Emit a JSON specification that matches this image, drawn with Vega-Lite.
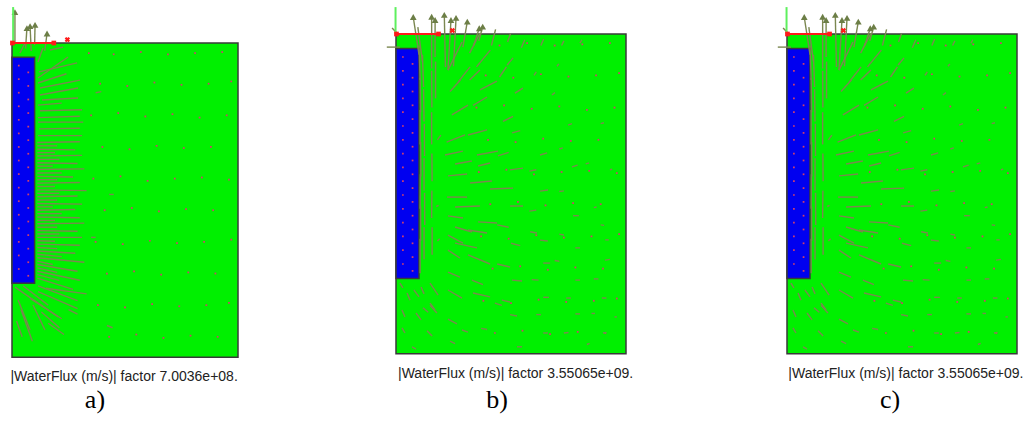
{
"$schema":"https://vega.github.io/schema/vega-lite/v6.json",
"padding":0,
"config":{"view":{"stroke":null}},
"spacing":110,
"bounds":"flush",
"resolve":{"scale":{"x":"independent","y":"independent"}},
"datasets":{
"regions":[{"x":0,"x2":10,"y":0,"y2":-13.9,"zone":"soil"},{"x":0,"x2":1.0,"y":-0.63,"y2":-10.63,"zone":"pile"}],
"dots":[
{"x":3.4,"y":-0.45},{"x":4.5,"y":-0.5},{"x":5.7,"y":-0.4},{"x":6.9,"y":-0.5},{"x":8.1,"y":-0.45},{"x":9.3,"y":-0.4},
{"x":3.9,"y":-1.8},{"x":5.1,"y":-1.9},{"x":6.3,"y":-1.75},{"x":7.5,"y":-1.85},{"x":8.7,"y":-1.8},{"x":9.7,"y":-1.7},
{"x":3.5,"y":-3.2},{"x":4.7,"y":-3.1},{"x":5.9,"y":-3.25},{"x":7.1,"y":-3.15},{"x":8.3,"y":-3.3},{"x":9.5,"y":-3.2},
{"x":4.0,"y":-4.6},{"x":5.2,"y":-4.7},{"x":6.4,"y":-4.55},{"x":7.6,"y":-4.65},{"x":8.8,"y":-4.6},
{"x":3.6,"y":-6.0},{"x":4.8,"y":-5.9},{"x":6.0,"y":-6.1},{"x":7.2,"y":-6.0},{"x":8.4,"y":-5.95},{"x":9.6,"y":-6.05},
{"x":4.1,"y":-7.4},{"x":5.3,"y":-7.3},{"x":6.5,"y":-7.45},{"x":7.7,"y":-7.35},{"x":8.9,"y":-7.4},
{"x":3.7,"y":-8.8},{"x":4.9,"y":-8.9},{"x":6.1,"y":-8.75},{"x":7.3,"y":-8.85},{"x":8.5,"y":-8.8},{"x":9.7,"y":-8.7},
{"x":4.2,"y":-10.2},{"x":5.4,"y":-10.1},{"x":6.6,"y":-10.25},{"x":7.8,"y":-10.15},{"x":9.0,"y":-10.2},
{"x":3.8,"y":-11.6},{"x":5.0,"y":-11.7},{"x":6.2,"y":-11.55},{"x":7.4,"y":-11.65},{"x":8.6,"y":-11.6},{"x":9.6,"y":-11.5},
{"x":4.3,"y":-13.0},{"x":5.5,"y":-12.9},{"x":6.7,"y":-13.05},{"x":7.9,"y":-12.95},{"x":9.1,"y":-13.0},
{"x":0.3,"y":-1.0},{"x":0.72,"y":-1.3},{"x":0.3,"y":-1.6},{"x":0.72,"y":-1.9},{"x":0.3,"y":-2.2},{"x":0.72,"y":-2.5},{"x":0.3,"y":-2.8},{"x":0.72,"y":-3.1},
{"x":0.3,"y":-3.4},{"x":0.72,"y":-3.7},{"x":0.3,"y":-4.0},{"x":0.72,"y":-4.3},{"x":0.3,"y":-4.6},{"x":0.72,"y":-4.9},{"x":0.3,"y":-5.2},{"x":0.72,"y":-5.5},
{"x":0.3,"y":-5.8},{"x":0.72,"y":-6.1},{"x":0.3,"y":-6.4},{"x":0.72,"y":-6.7},{"x":0.3,"y":-7.0},{"x":0.72,"y":-7.3},{"x":0.3,"y":-7.6},{"x":0.72,"y":-7.9},
{"x":0.3,"y":-8.2},{"x":0.72,"y":-8.5},{"x":0.3,"y":-8.8},{"x":0.72,"y":-9.1},{"x":0.3,"y":-9.4},{"x":0.72,"y":-9.7},{"x":0.3,"y":-10.0},{"x":0.72,"y":-10.3}
],
"redline":[{"x":0,"y":0,"x2":1.9,"y2":0}],
"redsq":[{"x":0.02,"y":0},{"x":1.85,"y":0}],
"redx":[{"x":2.45,"y":0.15}],
"guideA":[{"x":0.05,"y":0,"x2":0.05,"y2":1.59}],
"guideB":[{"x":-0.02,"y":0,"x2":-0.02,"y2":1.17}],
"capA":[{"x":4.96,"y":-14.96,"label":"|WaterFlux (m/s)| factor 7.0036e+08."}],
"tagA":[{"x":3.67,"y":-16.15,"label":"a)"}],
"capB":[{"x":5.2,"y":-14.96,"label":"|WaterFlux (m/s)| factor 3.55065e+09."}],
"tagB":[{"x":4.39,"y":-16.26,"label":"b)"}],
"capC":[{"x":5.17,"y":-14.96,"label":"|WaterFlux (m/s)| factor 3.55065e+09."}],
"tagC":[{"x":4.48,"y":-16.26,"label":"c)"}],
"headsA":[{"x":0.13,"y":1.37},{"x":0.66,"y":0.66},{"x":0.8,"y":0.75},{"x":1.02,"y":0.8},{"x":1.55,"y":0.42}],
"headsB":[{"x":0.75,"y":0.74},{"x":1.55,"y":0.75},{"x":1.7,"y":0.61},{"x":2.1,"y":0.83},{"x":2.39,"y":0.61},{"x":2.61,"y":0.7},{"x":3.1,"y":0.54},{"x":3.62,"y":0.25},{"x":3.77,"y":0.32}],
"arrowsA":[
{"x":0.13,"y":0,"x2":0.13,"y2":1.37},{"x":0.6,"y":-0.25,"x2":0.66,"y2":0.66},{"x":0.85,"y":-0.35,"x2":0.8,"y2":0.75},{"x":1.0,"y":-0.1,"x2":1.02,"y2":0.8},{"x":1.45,"y":-0.35,"x2":1.55,"y2":0.42},
{"x":0.35,"y":-0.44,"x2":0.58,"y2":0},{"x":1.15,"y":-0.84,"x2":1.37,"y2":-0.22},{"x":1.68,"y":-0.31,"x2":2.26,"y2":-0.18},
{"x":1.15,"y":-1.55,"x2":2.48,"y2":-0.62},{"x":1.19,"y":-1.28,"x2":2.88,"y2":-0.88},{"x":1.15,"y":-1.77,"x2":2.41,"y2":-1.36},{"x":1.24,"y":-1.99,"x2":3.01,"y2":-1.64},
{"x":1.24,"y":-2.3,"x2":2.92,"y2":-1.99},{"x":1.33,"y":-2.52,"x2":2.92,"y2":-2.43},{"x":1.15,"y":-2.75,"x2":2.2,"y2":-2.66},{"x":1.24,"y":-3.0,"x2":3.1,"y2":-2.95},
{"x":1.15,"y":-3.3,"x2":3.0,"y2":-3.24},{"x":1.15,"y":-3.5,"x2":3.15,"y2":-3.5},{"x":1.2,"y":-3.8,"x2":3.0,"y2":-3.77},{"x":1.15,"y":-4.1,"x2":3.1,"y2":-4.1},
{"x":1.12,"y":-4.4,"x2":3.0,"y2":-4.37},{"x":1.12,"y":-4.55,"x2":2.0,"y2":-4.55},
{"x":1.12,"y":-4.7,"x2":2.8,"y2":-4.73},{"x":1.12,"y":-4.85,"x2":1.9,"y2":-4.85},
{"x":1.12,"y":-5.0,"x2":3.1,"y2":-4.97},{"x":1.12,"y":-5.15,"x2":2.1,"y2":-5.15},
{"x":1.12,"y":-5.3,"x2":2.9,"y2":-5.33},{"x":1.12,"y":-5.45,"x2":1.8,"y2":-5.45},
{"x":1.12,"y":-5.6,"x2":3.2,"y2":-5.57},{"x":1.12,"y":-5.75,"x2":2.2,"y2":-5.75},
{"x":1.12,"y":-5.9,"x2":2.7,"y2":-5.93},{"x":1.12,"y":-6.05,"x2":2.0,"y2":-6.05},
{"x":1.12,"y":-6.2,"x2":3.0,"y2":-6.17},{"x":1.12,"y":-6.35,"x2":1.9,"y2":-6.35},
{"x":1.12,"y":-6.5,"x2":3.3,"y2":-6.53},{"x":1.12,"y":-6.65,"x2":2.1,"y2":-6.65},
{"x":1.12,"y":-6.8,"x2":2.9,"y2":-6.77},{"x":1.12,"y":-6.95,"x2":2.0,"y2":-6.95},
{"x":1.12,"y":-7.1,"x2":3.1,"y2":-7.13},{"x":1.12,"y":-7.25,"x2":1.8,"y2":-7.25},
{"x":1.12,"y":-7.4,"x2":2.8,"y2":-7.37},{"x":1.12,"y":-7.55,"x2":2.2,"y2":-7.55},
{"x":1.12,"y":-7.7,"x2":3.0,"y2":-7.73},{"x":1.12,"y":-7.85,"x2":1.9,"y2":-7.85},
{"x":1.12,"y":-8.0,"x2":3.2,"y2":-7.97},{"x":1.12,"y":-8.15,"x2":2.0,"y2":-8.15},
{"x":1.12,"y":-8.3,"x2":2.9,"y2":-8.33},{"x":1.12,"y":-8.45,"x2":2.1,"y2":-8.45},
{"x":1.12,"y":-8.6,"x2":3.1,"y2":-8.6},{"x":1.12,"y":-8.75,"x2":1.9,"y2":-8.77},
{"x":1.12,"y":-8.9,"x2":3.0,"y2":-8.95},{"x":1.12,"y":-9.05,"x2":2.0,"y2":-9.1},
{"x":1.12,"y":-9.2,"x2":2.8,"y2":-9.3},{"x":1.12,"y":-9.35,"x2":2.2,"y2":-9.45},
{"x":1.12,"y":-9.5,"x2":3.2,"y2":-9.7},{"x":1.12,"y":-9.65,"x2":1.8,"y2":-9.8},
{"x":1.12,"y":-9.8,"x2":2.9,"y2":-10.1},{"x":1.12,"y":-9.95,"x2":2.0,"y2":-10.15},
{"x":1.12,"y":-10.1,"x2":3.0,"y2":-10.5},{"x":1.12,"y":-10.25,"x2":2.1,"y2":-10.5},
{"x":1.12,"y":-10.4,"x2":2.7,"y2":-10.9},
{"x":1.15,"y":-10.75,"x2":2.9,"y2":-11.4},{"x":0.13,"y":-10.8,"x2":2.04,"y2":-12.12},{"x":1.15,"y":-11.0,"x2":2.9,"y2":-11.75},{"x":0.8,"y":-11.3,"x2":2.2,"y2":-12.2},
{"x":0.27,"y":-11.37,"x2":0.8,"y2":-12.7},{"x":0.93,"y":-11.59,"x2":1.46,"y2":-12.7},{"x":0.4,"y":-11.8,"x2":0.9,"y2":-13.2},{"x":1.3,"y":-11.9,"x2":2.1,"y2":-12.6},
{"x":0.2,"y":-12.3,"x2":0.45,"y2":-13.0},{"x":1.6,"y":-12.4,"x2":2.3,"y2":-12.9},{"x":2.5,"y":-11.8,"x2":2.9,"y2":-12.0},{"x":1.5,"y":-10.85,"x2":3.3,"y2":-11.1},
{"x":0.5,"y":-10.75,"x2":1.6,"y2":-11.6},
{"x":4.2,"y":-12.5,"x2":4.45,"y2":-12.6},{"x":3.7,"y":-2.2,"x2":3.95,"y2":-2.15},{"x":4.3,"y":-6.7,"x2":4.5,"y2":-6.7},{"x":3.5,"y":-8.6,"x2":3.7,"y2":-8.6}
],
"arrowsB":[
{"x":-0.4,"y":-0.57,"x2":0.17,"y2":-0.57},{"x":-0.17,"y":0.26,"x2":0.04,"y2":0.04},
{"x":1.05,"y":-10.4,"x2":1.05,"y2":-8.9},{"x":1.07,"y":-9.0,"x2":1.07,"y2":-7.5},{"x":1.05,"y":-7.6,"x2":1.06,"y2":-6.1},{"x":1.08,"y":-6.2,"x2":1.07,"y2":-4.7},
{"x":1.05,"y":-4.8,"x2":1.05,"y2":-3.3},{"x":1.07,"y":-3.4,"x2":1.05,"y2":-1.9},{"x":1.05,"y":-2.0,"x2":1.0,"y2":-0.5},{"x":1.0,"y":-0.9,"x2":0.75,"y2":0.74},
{"x":1.22,"y":-9.8,"x2":1.22,"y2":-8.4},{"x":1.25,"y":-8.3,"x2":1.24,"y2":-6.9},{"x":1.22,"y":-6.8,"x2":1.22,"y2":-5.4},{"x":1.24,"y":-5.3,"x2":1.23,"y2":-3.9},
{"x":1.22,"y":-3.8,"x2":1.2,"y2":-2.4},{"x":1.2,"y":-2.3,"x2":1.15,"y2":-0.9},{"x":1.15,"y":-1.2,"x2":0.95,"y2":0.3},
{"x":1.57,"y":-9.6,"x2":1.57,"y2":-8.4},{"x":1.55,"y":-8.0,"x2":1.56,"y2":-6.8},{"x":1.57,"y":-6.4,"x2":1.56,"y2":-5.2},{"x":1.55,"y":-4.8,"x2":1.55,"y2":-3.4},
{"x":1.56,"y":-3.2,"x2":1.55,"y2":-1.6},{"x":1.55,"y":-1.5,"x2":1.55,"y2":0.75},
{"x":1.72,"y":-2.8,"x2":1.72,"y2":-1.2},{"x":1.7,"y":-1.0,"x2":1.7,"y2":0.61},
{"x":2.15,"y":-1.43,"x2":2.1,"y2":0.83},{"x":2.26,"y":-1.57,"x2":2.39,"y2":0.61},{"x":2.5,"y":-1.4,"x2":2.61,"y2":0.7},{"x":2.91,"y":-0.57,"x2":3.1,"y2":0.54},
{"x":3.4,"y":-0.43,"x2":3.62,"y2":0.25},{"x":3.6,"y":-0.3,"x2":3.77,"y2":0.32},{"x":4.15,"y":-0.5,"x2":4.33,"y2":0.2},{"x":4.85,"y":-0.35,"x2":4.98,"y2":0.02},
{"x":5.45,"y":-0.6,"x2":5.6,"y2":-0.25},{"x":6.3,"y":-0.5,"x2":6.42,"y2":-0.22},{"x":7.2,"y":-0.5,"x2":7.3,"y2":-0.3},{"x":8.0,"y":-0.4,"x2":8.08,"y2":-0.25},
{"x":2.26,"y":-1.57,"x2":2.87,"y2":-0.35},{"x":2.7,"y":-2.09,"x2":3.22,"y2":-1.43},{"x":3.2,"y":-0.83,"x2":3.65,"y2":0.04},{"x":3.5,"y":-1.43,"x2":4.1,"y2":-0.7},
{"x":4.5,"y":-1.87,"x2":4.8,"y2":-1.43},{"x":4.83,"y":-1.35,"x2":5.09,"y2":-1.04},{"x":2.35,"y":-2.5,"x2":2.8,"y2":-2.0},{"x":3.2,"y":-2.0,"x2":3.65,"y2":-1.57},
{"x":3.65,"y":-2.43,"x2":4.39,"y2":-2.05},{"x":5.17,"y":-2.57,"x2":5.52,"y2":-2.35},{"x":6.78,"y":-2.65,"x2":6.91,"y2":-2.55},{"x":2.43,"y":-3.52,"x2":3.13,"y2":-3.09},
{"x":3.35,"y":-3.1,"x2":3.96,"y2":-2.74},{"x":4.65,"y":-3.8,"x2":5.09,"y2":-3.58},{"x":7.48,"y":-3.96,"x2":7.65,"y2":-3.9},{"x":8.9,"y":-3.9,"x2":9.04,"y2":-3.86},
{"x":6.0,"y":-1.8,"x2":6.1,"y2":-1.65},{"x":7.0,"y":-1.4,"x2":7.08,"y2":-1.3},
{"x":2.2,"y":-4.7,"x2":3.0,"y2":-4.39},{"x":3.13,"y":-4.39,"x2":3.96,"y2":-4.17},{"x":5.05,"y":-4.3,"x2":5.4,"y2":-4.2},{"x":2.13,"y":-5.26,"x2":2.91,"y2":-5.09},
{"x":3.52,"y":-5.26,"x2":4.43,"y2":-5.09},{"x":4.43,"y":-5.3,"x2":4.9,"y2":-5.15},{"x":6.26,"y":-5.26,"x2":6.57,"y2":-5.17},{"x":7.1,"y":-5.0,"x2":7.25,"y2":-4.95},
{"x":2.57,"y":-5.65,"x2":3.3,"y2":-5.52},{"x":3.57,"y":-5.74,"x2":4.09,"y2":-5.61},{"x":4.96,"y":-5.91,"x2":5.52,"y2":-5.83},{"x":5.8,"y":-5.96,"x2":6.1,"y2":-5.9},
{"x":7.65,"y":-5.78,"x2":7.9,"y2":-5.7},{"x":8.25,"y":-5.65,"x2":8.4,"y2":-5.6},{"x":9.3,"y":-5.9,"x2":9.4,"y2":-5.88},
{"x":2.26,"y":-6.17,"x2":3.09,"y2":-6.09},{"x":3.22,"y":-6.48,"x2":4.17,"y2":-6.39},{"x":4.09,"y":-6.74,"x2":5.09,"y2":-6.7},{"x":6.26,"y":-6.83,"x2":6.61,"y2":-6.78},
{"x":7.1,"y":-6.85,"x2":7.3,"y2":-6.82},{"x":2.22,"y":-7.09,"x2":3.09,"y2":-7.09},{"x":2.57,"y":-7.52,"x2":3.65,"y2":-7.48},{"x":4.96,"y":-7.48,"x2":5.52,"y2":-7.48},
{"x":5.8,"y":-7.7,"x2":6.1,"y2":-7.66},{"x":7.7,"y":-7.9,"x2":7.95,"y2":-7.9},{"x":8.6,"y":-7.55,"x2":8.72,"y2":-7.52},
{"x":2.26,"y":-7.91,"x2":2.91,"y2":-8.0},{"x":3.57,"y":-8.17,"x2":4.39,"y2":-8.22},{"x":4.4,"y":-8.3,"x2":4.9,"y2":-8.4},{"x":7.1,"y":-8.7,"x2":7.3,"y2":-8.74},
{"x":8.9,"y":-8.3,"x2":9.05,"y2":-8.32},{"x":2.57,"y":-8.39,"x2":3.3,"y2":-8.61},{"x":3.13,"y":-8.52,"x2":3.96,"y2":-8.65},{"x":5.83,"y":-8.6,"x2":6.13,"y2":-8.65},
{"x":2.26,"y":-8.74,"x2":2.91,"y2":-9.09},{"x":2.57,"y":-9.09,"x2":3.52,"y2":-9.3},{"x":5.0,"y":-9.1,"x2":5.4,"y2":-9.2},{"x":6.26,"y":-8.96,"x2":6.6,"y2":-9.0},
{"x":7.8,"y":-9.3,"x2":8.0,"y2":-9.3},{"x":9.1,"y":-8.95,"x2":9.25,"y2":-8.95},{"x":2.26,"y":-9.4,"x2":2.78,"y2":-9.74},{"x":3.13,"y":-9.6,"x2":4.09,"y2":-10.0},
{"x":4.4,"y":-10.0,"x2":4.96,"y2":-10.13},{"x":6.4,"y":-9.96,"x2":6.7,"y2":-9.96},{"x":6.9,"y":-9.85,"x2":7.1,"y2":-9.88},{"x":9.09,"y":-9.83,"x2":9.3,"y2":-9.8},
{"x":2.26,"y":-10.35,"x2":2.78,"y2":-10.57},{"x":3.3,"y":-10.7,"x2":3.78,"y2":-10.9},{"x":5.04,"y":-10.7,"x2":5.48,"y2":-10.74},{"x":5.9,"y":-10.68,"x2":6.2,"y2":-10.7},
{"x":7.8,"y":-10.7,"x2":8.0,"y2":-10.7},{"x":8.6,"y":-10.65,"x2":8.8,"y2":-10.65},{"x":1.48,"y":-10.83,"x2":1.83,"y2":-11.35},{"x":2.26,"y":-11.13,"x2":2.87,"y2":-11.48},
{"x":3.35,"y":-11.26,"x2":4.09,"y2":-11.43},{"x":4.3,"y":-11.7,"x2":4.6,"y2":-11.8},{"x":4.6,"y":-11.57,"x2":4.96,"y2":-11.65},{"x":6.4,"y":-11.45,"x2":6.65,"y2":-11.45},
{"x":7.4,"y":-11.48,"x2":7.6,"y2":-11.48},{"x":8.95,"y":-11.48,"x2":9.15,"y2":-11.48},{"x":1.48,"y":-11.8,"x2":1.78,"y2":-12.13},{"x":2.26,"y":-12.4,"x2":2.65,"y2":-12.6},
{"x":4.96,"y":-12.2,"x2":5.26,"y2":-12.26},{"x":6.1,"y":-12.2,"x2":6.3,"y2":-12.2},{"x":7.8,"y":-12.17,"x2":8.0,"y2":-12.17},{"x":8.5,"y":-12.15,"x2":8.65,"y2":-12.15},
{"x":9.5,"y":-12.3,"x2":9.6,"y2":-12.3},{"x":2.87,"y":-12.87,"x2":3.13,"y2":-12.96},{"x":3.7,"y":-12.8,"x2":3.96,"y2":-12.85},{"x":5.26,"y":-13.6,"x2":5.48,"y2":-13.6},
{"x":6.4,"y":-13.0,"x2":6.6,"y2":-13.0},{"x":7.3,"y":-13.0,"x2":7.5,"y2":-12.98},{"x":8.3,"y":-13.5,"x2":8.42,"y2":-13.45},{"x":9.0,"y":-13.0,"x2":9.15,"y2":-12.98},
{"x":0.17,"y":-10.83,"x2":0.3,"y2":-11.04},{"x":0.48,"y":-11.26,"x2":0.61,"y2":-11.57},{"x":0.78,"y":-11.13,"x2":1.0,"y2":-11.43},{"x":1.09,"y":-11.0,"x2":1.22,"y2":-11.3},
{"x":0.26,"y":-12.0,"x2":0.39,"y2":-12.3},{"x":0.87,"y":-12.13,"x2":1.09,"y2":-12.43},{"x":1.17,"y":-11.9,"x2":1.4,"y2":-12.1},{"x":1.48,"y":-11.7,"x2":1.7,"y2":-12.0},
{"x":0.26,"y":-12.78,"x2":0.39,"y2":-13.0},{"x":0.7,"y":-13.6,"x2":0.87,"y2":-13.7},{"x":1.35,"y":-12.9,"x2":1.57,"y2":-13.13},{"x":2.35,"y":-13.35,"x2":2.57,"y2":-13.46},
{"x":1.8,"y":-4.6,"x2":1.95,"y2":-4.4},{"x":1.75,"y":-7.5,"x2":1.85,"y2":-7.45},{"x":1.8,"y":-9.0,"x2":1.9,"y2":-8.9}
]
},
"hconcat":[
{
"width":260,"height":424,
"encoding":{
"x":{"field":"x","type":"quantitative","scale":{"domain":[-0.531,10.973],"nice":false,"zero":false},"axis":null},
"y":{"field":"y","type":"quantitative","scale":{"domain":[-16.858,1.903],"nice":false,"zero":false},"axis":null}
},
"layer":[
{"data":{"name":"regions"},"mark":{"type":"rect","stroke":"#3a3a3a","strokeWidth":1.5},"encoding":{"x2":{"field":"x2"},"y2":{"field":"y2"},"fill":{"field":"zone","type":"nominal","scale":{"domain":["soil","pile"],"range":["#00f000","#0000f0"]},"legend":null}}},
{"data":{"name":"dots"},"mark":{"type":"point","shape":"square","filled":true,"size":3,"color":"#d0406a","opacity":1}},
{"data":{"name":"arrowsA"},"mark":{"type":"rule","color":"#7b8750","strokeWidth":1.4}, "encoding":{"x2":{"field":"x2"},"y2":{"field":"y2"}}},
{"data":{"name":"headsA"},"mark":{"type":"point","shape":"triangle-up","filled":true,"size":45,"color":"#6c7e46","opacity":1}},
{"data":{"name":"guideA"},"mark":{"type":"rule","color":"#5ef05e","strokeWidth":2},"encoding":{"x2":{"field":"x2"},"y2":{"field":"y2"}}},
{"data":{"name":"redline"},"mark":{"type":"rule","color":"#ff1a1a","strokeWidth":2},"encoding":{"x2":{"field":"x2"},"y2":{"field":"y2"}}},
{"data":{"name":"redsq"},"mark":{"type":"point","shape":"square","filled":true,"size":22,"color":"#ff1a1a","opacity":1}},
{"data":{"name":"redx"},"mark":{"type":"point","shape":"cross","angle":45,"filled":true,"size":30,"color":"#ff1a1a","opacity":1}},
{"data":{"name":"capA"},"mark":{"type":"text","font":"Liberation Sans","fontSize":14,"align":"center","baseline":"alphabetic","color":"#222"},"encoding":{"text":{"field":"label"}}},
{"data":{"name":"tagA"},"mark":{"type":"text","font":"Liberation Serif","fontSize":26,"align":"center","baseline":"alphabetic","color":"#000"},"encoding":{"text":{"field":"label"}}}
]
},
{
"width":280,"height":424,
"encoding":{
"x":{"field":"x","type":"quantitative","scale":{"domain":[-1.1304,11.0435],"nice":false,"zero":false},"axis":null},
"y":{"field":"y","type":"quantitative","scale":{"domain":[-16.9565,1.4783],"nice":false,"zero":false},"axis":null}
},
"layer":[
{"data":{"name":"regions"},"mark":{"type":"rect","stroke":"#3a3a3a","strokeWidth":1.5},"encoding":{"x2":{"field":"x2"},"y2":{"field":"y2"},"fill":{"field":"zone","type":"nominal","scale":{"domain":["soil","pile"],"range":["#00f000","#0000f0"]},"legend":null}}},
{"data":{"name":"dots"},"mark":{"type":"point","shape":"square","filled":true,"size":3,"color":"#d0406a","opacity":1}},
{"data":{"name":"arrowsB"},"mark":{"type":"rule","color":"#7b8750","strokeWidth":1.4}, "encoding":{"x2":{"field":"x2"},"y2":{"field":"y2"}}},
{"data":{"name":"headsB"},"mark":{"type":"point","shape":"triangle-up","filled":true,"size":45,"color":"#6c7e46","opacity":1}},
{"data":{"name":"guideB"},"mark":{"type":"rule","color":"#5ef05e","strokeWidth":2},"encoding":{"x2":{"field":"x2"},"y2":{"field":"y2"}}},
{"data":{"name":"redline"},"mark":{"type":"rule","color":"#ff1a1a","strokeWidth":2},"encoding":{"x2":{"field":"x2"},"y2":{"field":"y2"}}},
{"data":{"name":"redsq"},"mark":{"type":"point","shape":"square","filled":true,"size":22,"color":"#ff1a1a","opacity":1}},
{"data":{"name":"redx"},"mark":{"type":"point","shape":"cross","angle":45,"filled":true,"size":30,"color":"#ff1a1a","opacity":1}},
{"data":{"name":"capB"},"mark":{"type":"text","font":"Liberation Sans","fontSize":14,"align":"center","baseline":"alphabetic","color":"#222"},"encoding":{"text":{"field":"label"}}},
{"data":{"name":"tagB"},"mark":{"type":"text","font":"Liberation Serif","fontSize":26,"align":"center","baseline":"alphabetic","color":"#000"},"encoding":{"text":{"field":"label"}}}
]
},
{
"width":270,"height":424,
"encoding":{
"x":{"field":"x","type":"quantitative","scale":{"domain":[-1.1739,10.5652],"nice":false,"zero":false},"axis":null},
"y":{"field":"y","type":"quantitative","scale":{"domain":[-16.9565,1.4783],"nice":false,"zero":false},"axis":null}
},
"layer":[
{"data":{"name":"regions"},"mark":{"type":"rect","stroke":"#3a3a3a","strokeWidth":1.5},"encoding":{"x2":{"field":"x2"},"y2":{"field":"y2"},"fill":{"field":"zone","type":"nominal","scale":{"domain":["soil","pile"],"range":["#00f000","#0000f0"]},"legend":null}}},
{"data":{"name":"dots"},"mark":{"type":"point","shape":"square","filled":true,"size":3,"color":"#d0406a","opacity":1}},
{"data":{"name":"arrowsB"},"mark":{"type":"rule","color":"#7b8750","strokeWidth":1.4}, "encoding":{"x2":{"field":"x2"},"y2":{"field":"y2"}}},
{"data":{"name":"headsB"},"mark":{"type":"point","shape":"triangle-up","filled":true,"size":45,"color":"#6c7e46","opacity":1}},
{"data":{"name":"guideB"},"mark":{"type":"rule","color":"#5ef05e","strokeWidth":2},"encoding":{"x2":{"field":"x2"},"y2":{"field":"y2"}}},
{"data":{"name":"redline"},"mark":{"type":"rule","color":"#ff1a1a","strokeWidth":2},"encoding":{"x2":{"field":"x2"},"y2":{"field":"y2"}}},
{"data":{"name":"redsq"},"mark":{"type":"point","shape":"square","filled":true,"size":22,"color":"#ff1a1a","opacity":1}},
{"data":{"name":"redx"},"mark":{"type":"point","shape":"cross","angle":45,"filled":true,"size":30,"color":"#ff1a1a","opacity":1}},
{"data":{"name":"capC"},"mark":{"type":"text","font":"Liberation Sans","fontSize":14,"align":"center","baseline":"alphabetic","color":"#222"},"encoding":{"text":{"field":"label"}}},
{"data":{"name":"tagC"},"mark":{"type":"text","font":"Liberation Serif","fontSize":26,"align":"center","baseline":"alphabetic","color":"#000"},"encoding":{"text":{"field":"label"}}}
]
}
]
}
